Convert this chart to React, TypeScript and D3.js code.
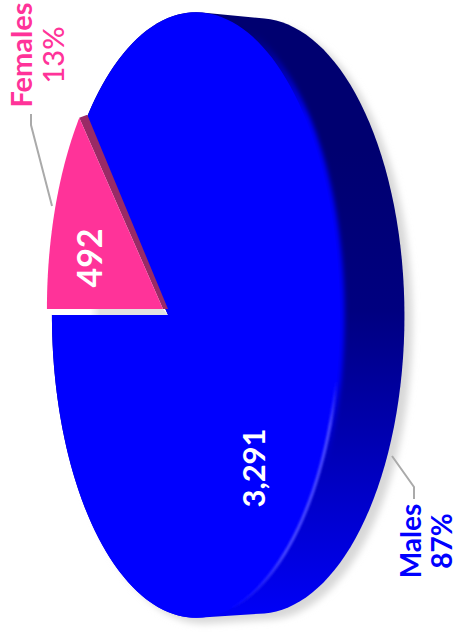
import * as d3 from "d3";

const WIDTH = 454;
const HEIGHT = 633;

const categories = ["Females", "Males"];
const values = [492, 3291];
const colors = ["#ff3399", "#0000ff"];

// the disc is a unit circle seen in perspective, lying on its side
const FRONT = { apexX: 168, apexY: 315, p: 106, c: -0.194, q: 297 };
const BACK = { apexX: 230, apexY: 316, p: 96, c: -0.194, q: 292 };
const FEMALE_SHIFT: [number, number] = [-5, -6];
const FEMALE_SIDE: [number, number] = [5, 0];

type Disc = typeof FRONT;
type Pt = [number, number];

const project = (d: Disc, a: number): Pt => {
    // a = 0 is the left end of the disc, growing clockwise on the page
    const x = -Math.cos(a);
    const y = -Math.sin(a);
    const w = 1 + d.c * x;
    return [(d.apexX + d.p * x) / w, d.apexY + (d.q * y) / w];
};

const sweep = (d: Disc, a0: number, a1: number, n = 160): Pt[] =>
    d3.range(n + 1).map((i) => project(d, a0 + ((a1 - a0) * i) / n));

const line = d3.line<Pt>();

export default function App() {
    const pie = d3.pie<number>().sort(null)(values);
    const total = d3.sum(values);
    const pct = d3.format(".0%");
    const num = d3.format(",");
    const TAU = Math.PI * 2;

    const [fem, male] = pie;
    const apex: Pt = [FRONT.apexX, FRONT.apexY];

    const frontAll = sweep(FRONT, 0, TAU);
    const backAll = sweep(BACK, 0, TAU);
    const hull = d3.polygonHull([...frontAll, ...backAll]) as Pt[];

    const femArc = sweep(FRONT, fem.startAngle, fem.endAngle, 60);
    const maleArc = sweep(FRONT, male.startAngle, male.endAngle);
    const femWedge = [apex, ...femArc];
    const maleWedge = [apex, ...maleArc];
    const moved = (pts: Pt[], s: Pt): Pt[] => pts.map((p) => [p[0] + s[0], p[1] + s[1]]);
    const femFace = moved(femWedge, FEMALE_SHIFT);
    const femTop = femArc[femArc.length - 1];

    // strip of the cut wall seen under the pulled out slice
    const gap: Pt[] = [apex, femArc[0], moved([femArc[0]], FEMALE_SHIFT)[0], moved([apex], FEMALE_SHIFT)[0]];
    const femSide: Pt[] = [
        moved([apex], FEMALE_SHIFT)[0],
        moved([femTop], FEMALE_SHIFT)[0],
        moved([femTop], [FEMALE_SHIFT[0] + FEMALE_SIDE[0] + 3, FEMALE_SHIFT[1] - 3])[0],
        moved([apex], [FEMALE_SHIFT[0] + FEMALE_SIDE[0], FEMALE_SHIFT[1]])[0],
    ];

    // rim between face and wall: soft on the dark part, a light line on the lit part
    const rimDark = sweep(FRONT, Math.PI * 0.6, Math.PI * 1.2);
    const rimLight = sweep(FRONT, Math.PI * 1.05, Math.PI * 1.45);

    return (
        <svg
            width={WIDTH}
            height={HEIGHT}
            style={{ position: "absolute", left: 0, top: 0 }}
            fontFamily="Lato, sans-serif"
        >
            <defs>
                <linearGradient id="wall" gradientUnits="userSpaceOnUse" x1={0} y1={150} x2={0} y2={610}>
                    <stop offset="0" stopColor="#000070" />
                    <stop offset="0.35" stopColor="#000080" />
                    <stop offset="0.62" stopColor="#0000b0" />
                    <stop offset="1" stopColor="#0000f5" />
                </linearGradient>
                <linearGradient id="gap" gradientUnits="userSpaceOnUse" x1={90} y1={0} x2={100} y2={0}>
                    <stop offset="0" stopColor="#ffffff" />
                    <stop offset="1" stopColor="#e2e2e2" />
                </linearGradient>
                <linearGradient id="rimDarkFade" gradientUnits="userSpaceOnUse" x1={0} y1={30} x2={0} y2={470}>
                    <stop offset="0" stopColor={colors[1]} stopOpacity={0} />
                    <stop offset="0.2" stopColor={colors[1]} stopOpacity={1} />
                    <stop offset="0.8" stopColor={colors[1]} stopOpacity={1} />
                    <stop offset="1" stopColor={colors[1]} stopOpacity={0} />
                </linearGradient>
                <linearGradient id="rimLightFade" gradientUnits="userSpaceOnUse" x1={0} y1={380} x2={0} y2={610}>
                    <stop offset="0" stopColor="#4a4aff" stopOpacity={0} />
                    <stop offset="0.2" stopColor="#4a4aff" stopOpacity={1} />
                    <stop offset="0.75" stopColor="#4a4aff" stopOpacity={1} />
                    <stop offset="1" stopColor="#4a4aff" stopOpacity={0} />
                </linearGradient>
                <filter id="soft" x="-20%" y="-20%" width="140%" height="140%">
                    <feGaussianBlur stdDeviation="3.5" />
                </filter>
                <filter id="rim" filterUnits="userSpaceOnUse" x={0} y={0} width={WIDTH} height={HEIGHT}>
                    <feGaussianBlur stdDeviation="2.5" />
                </filter>
                <filter id="rim2" filterUnits="userSpaceOnUse" x={0} y={0} width={WIDTH} height={HEIGHT}>
                    <feGaussianBlur stdDeviation="0.8" />
                </filter>
                <clipPath id="hullClip">
                    <path d={line(hull) + "Z"} />
                </clipPath>
            </defs>

            {/* drop shadow */}
            <path d={line(hull) + "Z"} fill="#d8d8d8" filter="url(#soft)" transform="translate(8,6)" />

            {/* wall */}
            <path d={line(hull) + "Z"} fill="url(#wall)" />

            {/* hole left by the slice */}
            <path d={line(femWedge) + "Z"} fill="#ffffff" />
            <path d={line(gap) + "Z"} fill="url(#gap)" />

            {/* males */}
            <g clipPath="url(#hullClip)">
                <path d={line(rimDark)!} fill="none" stroke="url(#rimDarkFade)" strokeWidth={9} filter="url(#rim)" />
            </g>
            <path d={line(maleWedge) + "Z"} fill={colors[1]} />
            <path d={line(rimLight)!} fill="none" stroke="url(#rimLightFade)" strokeWidth={3} filter="url(#rim2)" />

            {/* females */}
            <path d={line(femSide) + "Z"} fill="#992a66" />
            <path d={line(femFace) + "Z"} fill={colors[0]} />

            {/* leaders */}
            <path d={line([[31, 114], [31, 125], [52, 206]])!} fill="none" stroke="#aaaaaa" strokeWidth={2} />
            <path d={line([[392, 456], [414, 487], [414, 499]])!} fill="none" stroke="#aaaaaa" strokeWidth={2} />

            {/* labels */}
            <g textAnchor="middle" fontWeight={700}>
                <g transform="translate(32,55) rotate(-90)" fill={colors[0]} fontSize={29}>
                    <text>{categories[0]}</text>
                    <text y={32} fontWeight={500}>{pct(values[0] / total)}</text>
                </g>
                <g transform="translate(421,541) rotate(-90)" fill={colors[1]} fontSize={28}>
                    <text>{categories[1]}</text>
                    <text y={31}>{pct(values[1] / total)}</text>
                </g>
                <text transform="translate(102,258) rotate(-90)" fill="#fff" fontSize={34}>{num(values[0])}</text>
                <text transform="translate(265,468) rotate(-90)" fill="#fff" fontSize={31}>{num(values[1])}</text>
            </g>
        </svg>
    );
}
